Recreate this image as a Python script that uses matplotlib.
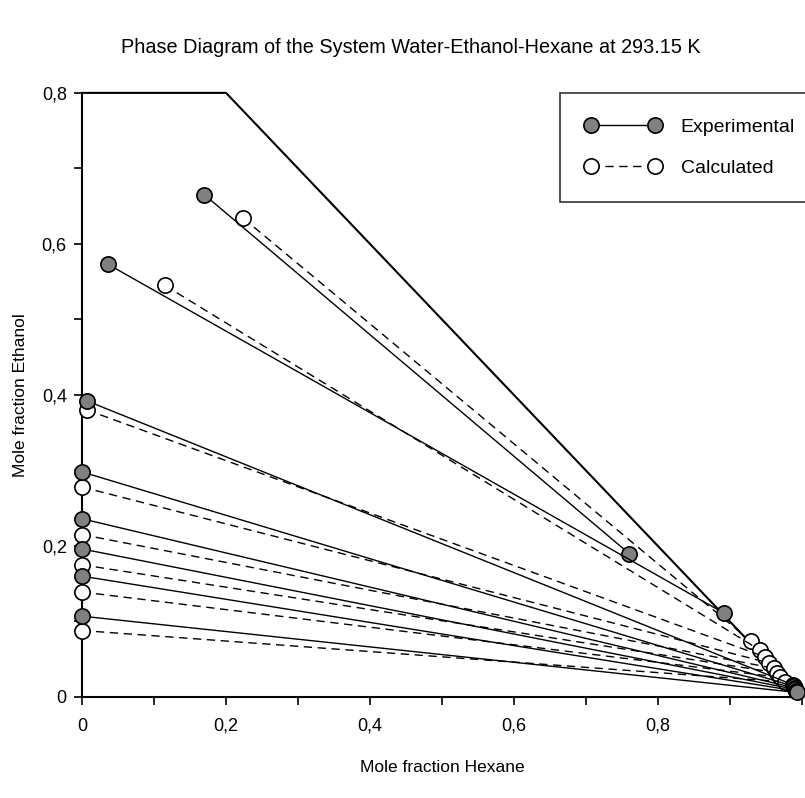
import numpy as np
import matplotlib
matplotlib.use("Agg")
import matplotlib.pyplot as plt
from matplotlib.ticker import MultipleLocator, FuncFormatter

plt.rcParams['font.family'] = ['Liberation Sans', 'DejaVu Sans']

# experimental tie lines: water-rich phase (left) and hexane-rich phase (right)
exp_left_x = [0.17, 0.036, 0.007, 0.0, 0.0, 0.0, 0.0, 0.0]
exp_left_y = [0.665, 0.573, 0.392, 0.298, 0.236, 0.196, 0.160, 0.107]
exp_right_x = [0.760, 0.892, 0.988, 0.989, 0.990, 0.991, 0.992, 0.993]
exp_right_y = [0.190, 0.111, 0.016, 0.014, 0.012, 0.010, 0.008, 0.006]

# calculated tie lines
calc_left_x = [0.224, 0.115, 0.007, 0.0, 0.0, 0.0, 0.0, 0.0]
calc_left_y = [0.634, 0.545, 0.380, 0.278, 0.215, 0.175, 0.139, 0.088]
calc_right_x = [0.929, 0.942, 0.949, 0.955, 0.961, 0.966, 0.970, 0.976]
calc_right_y = [0.074, 0.062, 0.053, 0.045, 0.038, 0.032, 0.026, 0.020]

# outer border of the plotting region (x + y <= 1, y <= 0.8)
border_x = [0.0, 0.2, 1.0]
border_y = [0.8, 0.8, 0.0]

fig = plt.figure(figsize=(8.05, 7.98), dpi=100)
ax = fig.add_axes([0.102, 0.1266, 0.894, 0.757])

ax.plot(border_x, border_y, color='black', lw=1.5, clip_on=False, zorder=2)

for i in range(len(calc_left_x)):
    ax.plot([calc_left_x[i], calc_right_x[i]], [calc_left_y[i], calc_right_y[i]],
            color='black', lw=1.0, ls=(0, (6, 4)), marker='o', ms=11,
            mfc='white', mec='black', mew=1.2, clip_on=False, zorder=3,
            label='Calculated' if i == 0 else None)

for i in range(len(exp_left_x)):
    ax.plot([exp_left_x[i], exp_right_x[i]], [exp_left_y[i], exp_right_y[i]],
            color='black', lw=1.0, ls='-', marker='o', ms=11,
            mfc='#808080', mec='black', mew=1.2, clip_on=False, zorder=4,
            label='Experimental' if i == 0 else None)

ax.set_xlim(0, 1)
ax.set_ylim(0, 0.8)

for s in ['top', 'right']:
    ax.spines[s].set_visible(False)
ax.spines['left'].set_linewidth(1.5)
ax.spines['bottom'].set_linewidth(1.5)


def comma(v, p):
    if abs(v) < 1e-9:
        return '0'
    if v > 0.95:
        return ''
    return ('%.1f' % v).replace('.', ',')


fmt = FuncFormatter(comma)
ax.xaxis.set_major_locator(MultipleLocator(0.2))
ax.xaxis.set_minor_locator(MultipleLocator(0.1))
ax.yaxis.set_major_locator(MultipleLocator(0.2))
ax.yaxis.set_minor_locator(MultipleLocator(0.1))
ax.xaxis.set_major_formatter(fmt)
ax.yaxis.set_major_formatter(fmt)
ax.tick_params(which='both', direction='out', length=6, width=1.2, labelsize=13)
ax.tick_params(axis='x', pad=9)
ax.tick_params(axis='y', pad=5)

ax.set_xlabel('Mole fraction Hexane', fontsize=12.5, labelpad=18)
ax.set_ylabel('Mole fraction Ethanol', fontsize=12.5, labelpad=10)
fig.suptitle('Phase Diagram of the System Water-Ethanol-Hexane at 293.15 K',
             fontsize=14.3, x=0.51, y=0.952)

handles, labels = ax.get_legend_handles_labels()
leg = ax.legend(handles[::-1], labels[::-1], loc='upper left',
                bbox_to_anchor=(0.664, 1.0), numpoints=2, handlelength=3.9,
                fontsize=14, frameon=True, fancybox=False, borderpad=1.3,
                labelspacing=1.2, handletextpad=1.0, borderaxespad=0)
leg.get_frame().set_edgecolor('black')
leg.get_frame().set_linewidth(1.2)

plt.savefig('out.png', dpi=100)
